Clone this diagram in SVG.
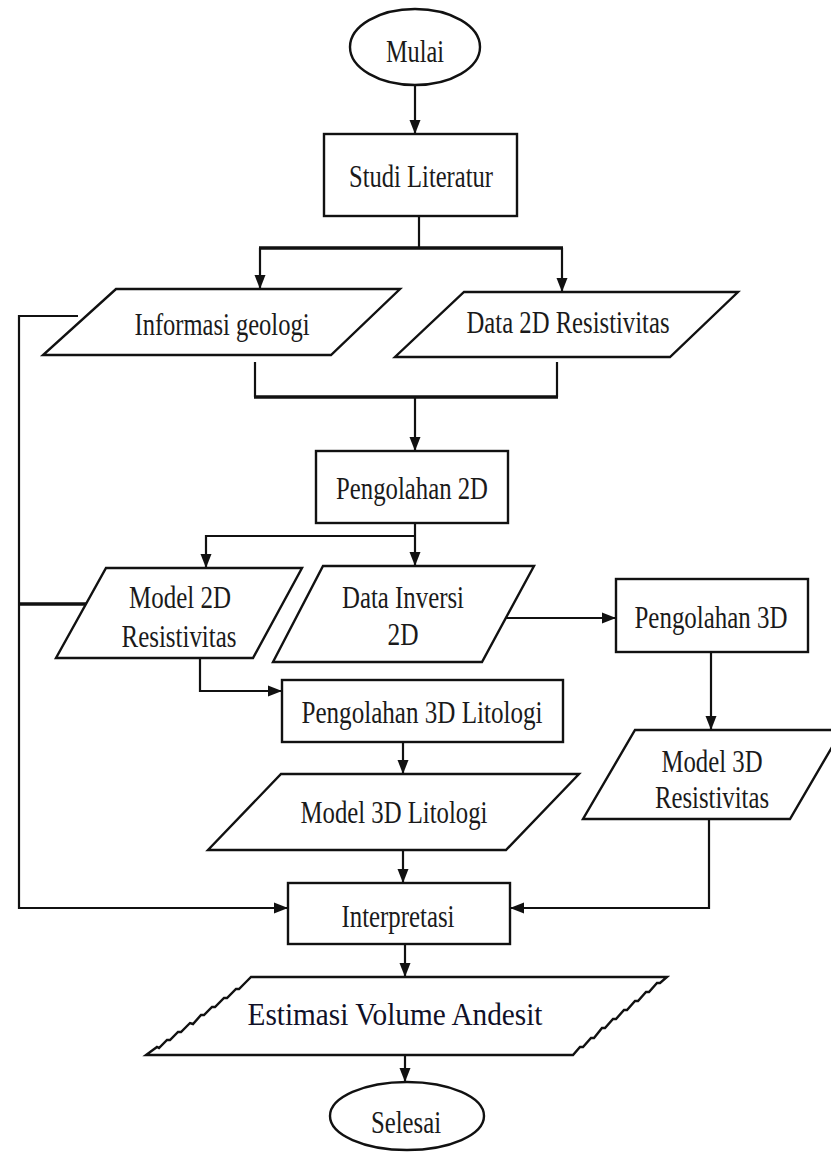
<svg xmlns="http://www.w3.org/2000/svg" width="831" height="1153" viewBox="0 0 831 1153">
<style>
.s{fill:#fff;stroke:#111;stroke-width:2.4}
.c{fill:none;stroke:#111;stroke-width:2.2}
.k{fill:none;stroke:#111;stroke-width:3.4}
.t{font-family:"Liberation Serif","Times New Roman",serif;font-size:32px;fill:#1a1a1a;text-anchor:middle}
</style>
<defs>
<marker id="a" markerUnits="userSpaceOnUse" markerWidth="14" markerHeight="12" refX="14" refY="6" orient="auto">
<path d="M0,0.5 L14,6 L0,11.5 z" fill="#111"/>
</marker>
</defs>
<rect width="831" height="1153" fill="#fff"/>
<g id="connectors">
<line class="c" x1="415" y1="85" x2="415" y2="134" marker-end="url(#a)"/>
<line class="c" x1="419" y1="216" x2="419" y2="248"/>
<line class="k" x1="259" y1="248" x2="563" y2="248"/>
<line class="c" x1="260" y1="248" x2="260" y2="289" marker-end="url(#a)"/>
<line class="c" x1="562" y1="248" x2="562" y2="292" marker-end="url(#a)"/>
<polyline class="c" points="255,362 255,397"/>
<polyline class="c" points="557,362 557,397"/>
<line class="k" x1="254" y1="397" x2="558" y2="397"/>
<line class="c" x1="415" y1="397" x2="415" y2="451" marker-end="url(#a)"/>
<line class="c" x1="415" y1="523" x2="415" y2="566" marker-end="url(#a)"/>
<polyline class="c" points="415,536 206,536 206,568" marker-end="url(#a)"/>
<line class="c" x1="506" y1="618" x2="616" y2="618" marker-end="url(#a)"/>
<line class="c" x1="711" y1="652" x2="711" y2="730" marker-end="url(#a)"/>
<polyline class="c" points="200,658 200,691 282,691" marker-end="url(#a)"/>
<line class="c" x1="403" y1="742" x2="403" y2="774" marker-end="url(#a)"/>
<line class="c" x1="403" y1="850" x2="403" y2="883" marker-end="url(#a)"/>
<polyline class="c" points="709,819 709,908 510,908" marker-end="url(#a)"/>
<polyline class="c" points="78,316 19,316 19,908 288,908" marker-end="url(#a)"/>
<line class="k" x1="19" y1="604" x2="86" y2="604"/>
<line class="c" x1="405" y1="944" x2="405" y2="977" marker-end="url(#a)"/>
<line class="c" x1="405" y1="1055" x2="405" y2="1082" marker-end="url(#a)"/>
</g>
<g id="mulai">
<ellipse class="s" cx="415" cy="47" rx="65" ry="38"/>
<text class="t" x="415" y="62" textLength="58" lengthAdjust="spacingAndGlyphs">Mulai</text>
</g>
<g id="studi">
<rect class="s" x="324" y="134" width="193" height="82"/>
<text class="t" x="421" y="187" textLength="144" lengthAdjust="spacingAndGlyphs">Studi Literatur</text>
</g>
<g id="informasi">
<polygon class="s" points="116,289 400,289 331,355 43,355"/>
<text class="t" x="222" y="335" textLength="175" lengthAdjust="spacingAndGlyphs">Informasi geologi</text>
</g>
<g id="data2d">
<polygon class="s" points="464,292 738,292 670,357 395,357"/>
<text class="t" x="568" y="333" textLength="203" lengthAdjust="spacingAndGlyphs">Data 2D Resistivitas</text>
</g>
<g id="pengolahan2d">
<rect class="s" x="316" y="451" width="192" height="72"/>
<text class="t" x="412" y="499" textLength="152" lengthAdjust="spacingAndGlyphs">Pengolahan 2D</text>
</g>
<g id="model2d">
<polygon class="s" points="106,568 302,568 253,658 56,658"/>
<text class="t" x="180" y="608" textLength="102" lengthAdjust="spacingAndGlyphs">Model 2D</text>
<text class="t" x="179" y="647" textLength="115" lengthAdjust="spacingAndGlyphs">Resistivitas</text>
</g>
<g id="datainversi">
<polygon class="s" points="323,566 534,566 482,662 273,662"/>
<text class="t" x="403" y="608" textLength="122" lengthAdjust="spacingAndGlyphs">Data Inversi</text>
<text class="t" x="403" y="645" textLength="31" lengthAdjust="spacingAndGlyphs">2D</text>
</g>
<g id="pengolahan3d">
<rect class="s" x="616" y="579" width="192" height="73"/>
<text class="t" x="711" y="628" textLength="153" lengthAdjust="spacingAndGlyphs">Pengolahan 3D</text>
</g>
<g id="pengolahan3dlitologi">
<rect class="s" x="282" y="680" width="281" height="62"/>
<text class="t" x="422" y="723" textLength="241" lengthAdjust="spacingAndGlyphs">Pengolahan 3D Litologi</text>
</g>
<g id="model3dres">
<polygon class="s" points="635,730 842,730 790,819 583,819"/>
<text class="t" x="712" y="772" textLength="101" lengthAdjust="spacingAndGlyphs">Model 3D</text>
<text class="t" x="712" y="808" textLength="114" lengthAdjust="spacingAndGlyphs">Resistivitas</text>
</g>
<g id="model3dlit">
<polygon class="s" points="281,774 579,774 506,850 208,850"/>
<text class="t" x="394" y="823" textLength="187" lengthAdjust="spacingAndGlyphs">Model 3D Litologi</text>
</g>
<g id="interpretasi">
<rect class="s" x="288" y="883" width="222" height="61"/>
<text class="t" x="398" y="927" textLength="113" lengthAdjust="spacingAndGlyphs">Interpretasi</text>
</g>
<g id="estimasi">
<path class="s" d="M251,977 L667,977 L660,983 L657,983 L649,992 L646,992 L638,1001 L635,1001 L627,1010 L624,1010 L616,1019 L613,1019 L605,1028 L602,1028 L594,1038 L591,1038 L583,1047 L580,1047 L573,1055 L146,1055 L157,1047 L159,1048 L167,1040 L170,1040 L178,1032 L181,1032 L190,1023 L193,1024 L201,1015 L204,1015 L212,1007 L215,1007 L224,998 L227,998 L236,989 L239,989 L247,981 Z"/>
<text class="t" x="395" y="1025" font-size="30" style="fill:#101028" textLength="295" lengthAdjust="spacingAndGlyphs">Estimasi Volume Andesit</text>
</g>
<g id="selesai">
<ellipse class="s" cx="407" cy="1116" rx="77" ry="34"/>
<text class="t" x="406" y="1133" textLength="70" lengthAdjust="spacingAndGlyphs">Selesai</text>
</g>
</svg>
